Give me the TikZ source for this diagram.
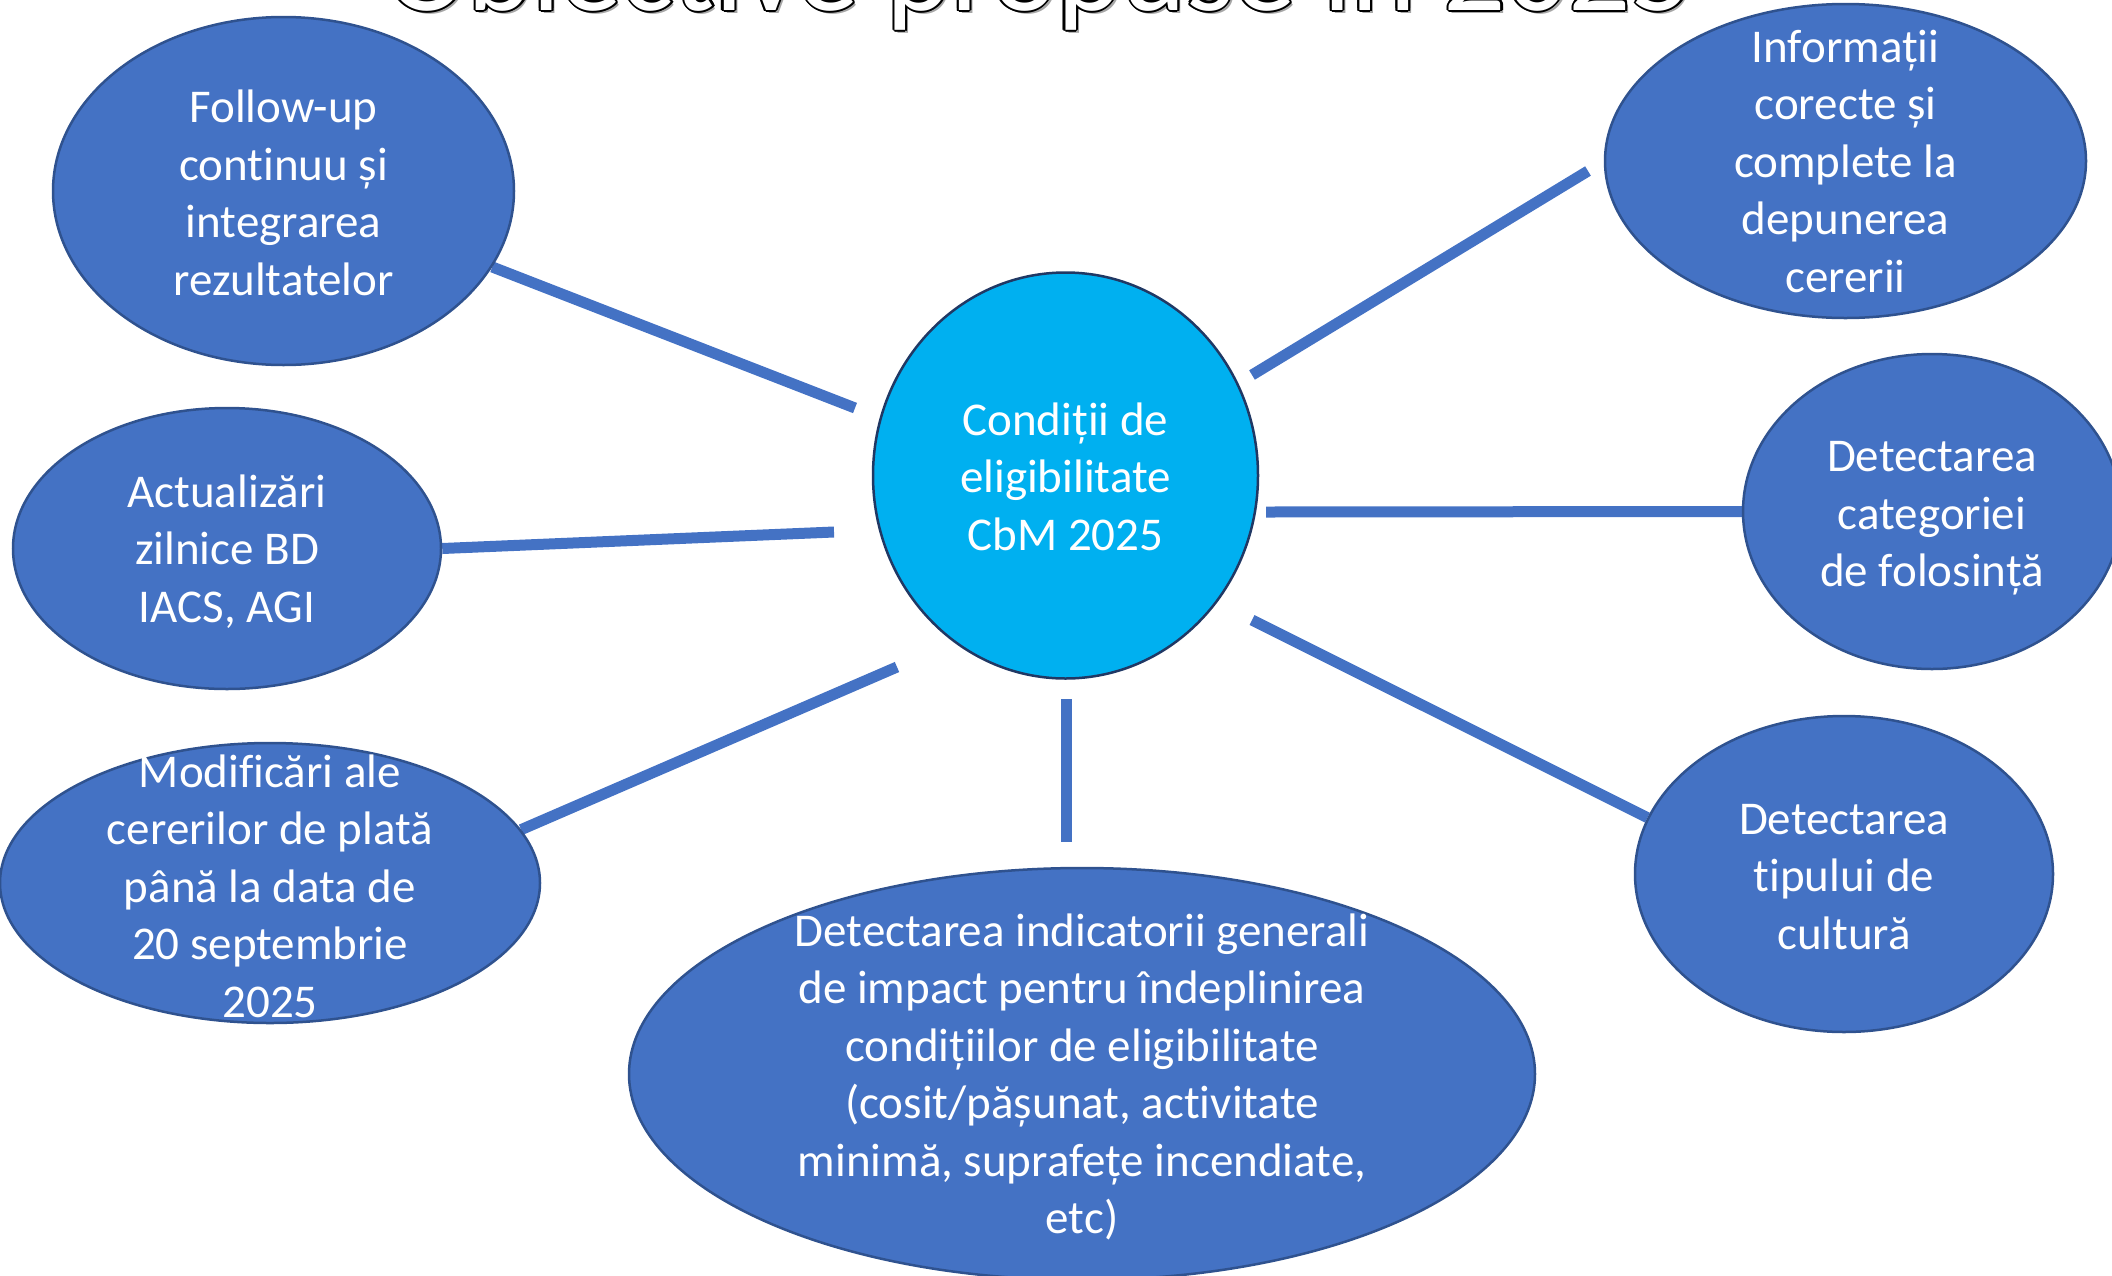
\documentclass[tikz,border=0pt]{standalone}
\usepackage{fontspec}
\setmainfont{Carlito}[Ligatures=NoCommon]
\usetikzlibrary{shapes.geometric,backgrounds}
\definecolor{blu}{HTML}{4472C4}
\definecolor{bord}{HTML}{2F528F}
\definecolor{cyanc}{HTML}{00B0F0}
\definecolor{navy}{HTML}{203864}
\tikzset{
  bub/.style={ellipse, draw=bord, line width=2.5pt, fill=blu, inner sep=0pt},
  hub/.style={ellipse, draw=navy, line width=2.5pt, fill=cyanc, inner sep=0pt},
  txt/.style={text=white, align=center, inner sep=0pt, yshift=-3pt, font=\fontsize{47}{57.5}\selectfont},
  link/.style={draw=blu, line width=11pt, line cap=butt},
  titletxt/.style={font=\fontsize{123}{148}\selectfont, anchor=base, inner sep=0pt}
}
\begin{document}
\begin{tikzpicture}[x=1pt,y=-1pt]
\useasboundingbox (0,0) rectangle (2112,1275);
\clip (0,0) rectangle (2112,1275);

% title (outlined, cut off at the top)
\coordinate (tpos) at (1040,10);
\node[titletxt, text=black!35, xshift=3pt, yshift=-3pt] (tsh) at (tpos) {Obiective propuse în 2025};
\foreach \i/\dx/\dy in {1/2.2/0,2/-2.2/0,3/0/2.2,4/0/-2.2,5/1.6/1.6,6/-1.6/1.6,7/1.6/-1.6,8/-1.6/-1.6}
  \node[titletxt, text=black, xshift=\dx pt, yshift=\dy pt] (tc\i) at (tpos) {Obiective propuse în 2025};
\node[titletxt, text=white] (title) at (tpos) {Obiective propuse în 2025};

% bubbles
\node[hub, minimum width=385pt, minimum height=406pt] (c) at (1065.5,475.5) {};
\node[txt, yshift=2pt] (c-t) at (c) {Condiții de\\eligibilitate\\CbM 2025};

\node[bub, minimum width=461pt, minimum height=348pt] (fu) at (283.5,191) {};
\node[txt, yshift=1pt] (fu-t) at (fu) {Follow-up\\continuu și\\integrarea\\rezultatelor};

\node[bub, minimum width=428pt, minimum height=281pt] (act) at (227,548.5) {};
\node[txt] (act-t) at (act) {Actualizări\\zilnice BD\\IACS, AGI};

\node[bub, minimum width=540pt, minimum height=280pt] (mod) at (270,883) {};
\node[txt] (mod-t) at (mod) {Modificări ale\\cererilor de plată\\până la data de\\20 septembrie\\2025};

\node[bub, minimum width=906pt, minimum height=412pt] (det) at (1082,1074) {};
\node[txt] (det-t) at (det) {Detectarea indicatorii generali\\de impact pentru îndeplinirea\\condițiilor de eligibilitate\\(cosit/pășunat, activitate\\minimă, suprafețe incendiate,\\etc)};

\node[bub, minimum width=481pt, minimum height=314pt] (inf) at (1845.5,161) {};
\node[txt, yshift=3pt] (inf-t) at (inf) {Informații\\corecte și\\complete la\\depunerea\\cererii};

\node[bub, minimum width=378pt, minimum height=315pt] (cat) at (1932,511.5) {};
\node[txt, yshift=-4pt] (cat-t) at (cat) {Detectarea\\categoriei\\de folosință};

\node[bub, minimum width=418pt, minimum height=316pt] (tip) at (1844,874) {};
\node[txt] (tip-t) at (tip) {Detectarea\\tipului de\\cultură};

% connector free ends
\coordinate (e1) at (855,408);
\coordinate (e2) at (1252,375);
\coordinate (f2) at (1588,171);
\coordinate (e3) at (834,532);
\coordinate (e4) at (1266,512);
\coordinate (e5) at (897,667);
\coordinate (e6) at (1252,620);
\coordinate (e7) at (1066,699);
\coordinate (f7) at (1066,842);

\begin{scope}[on background layer]
\draw[link] (fu.-20) -- (e1);
\draw[link] (e2) -- (f2);
\draw[link] (act.east) -- (e3);
\draw[link] (e4) -- (cat.west);
\draw[link] (mod.12) -- (e5);
\draw[link] (e6) -- (tip.164);
\draw[link] (e7) -- (f7);
\end{scope}
\end{tikzpicture}
\end{document}
